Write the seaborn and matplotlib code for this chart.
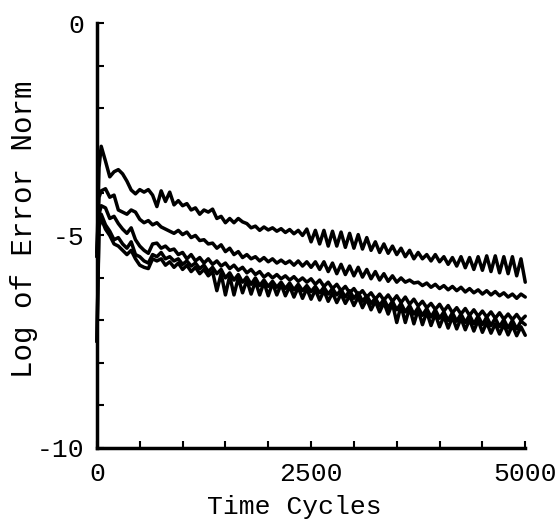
import numpy as np
import pandas as pd
import matplotlib
matplotlib.use("Agg")
import matplotlib.pyplot as plt
import seaborn as sns

# time cycles sampled (first two points cover the initial jump)
cycles = np.concatenate([[0, 25], np.arange(50, 5001, 50)])

# log of error norm (top curve first)
run_1 = [-5.5, -3.4,
         -2.9, -3.25, -3.62, -3.5, -3.45, -3.55, -3.72, -3.93, -4.02, -3.92,
         -3.98, -3.92, -4.05, -4.32, -3.95, -4.2, -3.98, -4.28, -4.18, -4.3,
         -4.25, -4.4, -4.35, -4.5, -4.4, -4.45, -4.38, -4.6, -4.55, -4.7,
         -4.6, -4.7, -4.6, -4.68, -4.72, -4.82, -4.78, -4.88, -4.8, -4.87,
         -4.82, -4.9, -4.84, -4.93, -4.86, -4.96, -4.88, -5.0, -4.85, -5.15,
         -4.88, -5.2, -4.88, -5.25, -4.9, -5.25, -4.92, -5.28, -4.95, -5.3,
         -4.98, -5.32, -5.05, -5.35, -5.15, -5.4, -5.2, -5.42, -5.25, -5.45,
         -5.3, -5.5, -5.35, -5.55, -5.4, -5.55, -5.45, -5.6, -5.45, -5.62,
         -5.5, -5.68, -5.52, -5.72, -5.5, -5.76, -5.52, -5.8, -5.5, -5.82,
         -5.48, -5.85, -5.48, -5.88, -5.5, -5.9, -5.5, -5.95, -5.55, -6.1]
run_2 = [-5.4, -4.1,
         -3.95, -3.9, -4.1, -4.05, -4.4, -4.45, -4.5, -4.4, -4.45, -4.62,
         -4.7, -4.65, -4.75, -4.7, -4.8, -4.85, -4.9, -4.95, -4.88, -4.98,
         -4.92, -5.05, -5.0, -5.12, -5.1, -5.2, -5.18, -5.3, -5.22, -5.38,
         -5.3, -5.45, -5.38, -5.52, -5.45, -5.55, -5.5, -5.6, -5.52, -5.62,
         -5.55, -5.65, -5.58, -5.66, -5.6, -5.7, -5.6, -5.72, -5.62, -5.75,
         -5.62, -5.8, -5.62, -5.85, -5.65, -5.9, -5.68, -5.92, -5.72, -5.95,
         -5.75, -5.98, -5.8, -6.02, -5.85, -6.05, -5.9, -6.08, -5.95, -6.1,
         -6.0, -6.1, -6.05, -6.12, -6.1, -6.18, -6.12, -6.22, -6.15, -6.25,
         -6.18, -6.28, -6.2, -6.3, -6.22, -6.33, -6.25, -6.35, -6.28, -6.38,
         -6.3, -6.4, -6.32, -6.42, -6.35, -6.45, -6.38, -6.48, -6.38, -6.45]
run_3 = [-5.5, -4.5,
         -4.3, -4.35, -4.6, -4.55, -4.72, -4.85, -4.95, -4.82, -5.1, -5.25,
         -5.35, -5.42, -5.2, -5.18, -5.3, -5.25, -5.35, -5.32, -5.45, -5.4,
         -5.55, -5.45, -5.6, -5.52, -5.65, -5.55, -5.68, -5.6, -5.72, -5.65,
         -5.78, -5.7, -5.82, -5.75, -5.88, -5.8, -5.92, -5.85, -5.98, -5.9,
         -6.0, -5.92, -6.02, -5.95, -6.05, -5.97, -6.08, -6.0, -6.1, -6.02,
         -6.15, -6.05, -6.2, -6.1, -6.25, -6.15, -6.3, -6.2, -6.35, -6.25,
         -6.4, -6.3, -6.45, -6.35, -6.5, -6.38, -6.52, -6.4, -6.55, -6.42,
         -6.58, -6.45, -6.62, -6.5, -6.66, -6.55, -6.7, -6.6, -6.74, -6.62,
         -6.78, -6.65, -6.82, -6.7, -6.85, -6.72, -6.88, -6.75, -6.9, -6.78,
         -6.92, -6.8, -6.95, -6.82, -6.97, -6.85, -6.98, -6.86, -7.0, -6.9]
run_4 = [-7.5, -4.6,
         -4.5, -4.75, -4.9, -5.1, -5.05, -5.2, -5.3, -5.15, -5.45, -5.5,
         -5.6, -5.65, -5.45, -5.5, -5.4, -5.55, -5.5, -5.6, -5.55, -5.68,
         -5.6, -5.72, -5.65, -5.78, -5.7, -5.85, -5.75, -5.9, -5.8, -6.0,
         -5.88, -6.05, -5.92, -6.1, -5.98, -6.15, -6.0, -6.18, -6.05, -6.2,
         -6.08, -6.22, -6.1, -6.25, -6.12, -6.28, -6.15, -6.3, -6.18, -6.32,
         -6.2, -6.35, -6.22, -6.38, -6.25, -6.4, -6.28, -6.45, -6.3, -6.48,
         -6.35, -6.55, -6.42, -6.6, -6.48, -6.65, -6.5, -6.7, -6.55, -6.75,
         -6.6, -6.8, -6.65, -6.85, -6.7, -6.88, -6.72, -6.92, -6.75, -6.95,
         -6.8, -7.0, -6.82, -7.02, -6.85, -7.05, -6.88, -7.08, -6.9, -7.1,
         -6.92, -7.12, -6.95, -7.15, -6.98, -7.18, -7.0, -7.2, -7.02, -7.1]
run_5 = [-7.5, -4.8,
         -4.6, -4.85, -5.0, -5.2, -5.25, -5.35, -5.45, -5.35, -5.55, -5.7,
         -5.75, -5.78, -5.55, -5.6, -5.55, -5.7, -5.62, -5.75, -5.65, -5.8,
         -5.7, -5.85, -5.75, -5.9, -5.8, -5.95, -5.85, -6.3, -5.9, -6.4,
         -5.95, -6.4, -6.0, -6.35, -6.05, -6.38, -6.08, -6.4, -6.1, -6.42,
         -6.12, -6.4, -6.15, -6.42, -6.2, -6.45, -6.22, -6.48, -6.25, -6.5,
         -6.28, -6.52, -6.3, -6.55, -6.35, -6.58, -6.38, -6.6, -6.42, -6.65,
         -6.45, -6.7, -6.5, -6.75, -6.55, -6.8, -6.58, -6.85, -6.6, -7.05,
         -6.65, -7.05, -6.7, -7.08, -6.75, -7.1, -6.8, -7.12, -6.85, -7.15,
         -6.9, -7.18, -6.92, -7.2, -6.95, -7.22, -6.98, -7.25, -7.0, -7.28,
         -7.05, -7.3, -7.08, -7.32, -7.1, -7.34, -7.12, -7.36, -7.15, -7.35]

x_ticks = [0, 2500, 5000]
y_ticks = [0, -5, -10]

# long format for seaborn
runs = [run_1, run_2, run_3, run_4, run_5]
df = pd.concat([pd.DataFrame({"cycle": cycles, "err": r, "run": i})
                for i, r in enumerate(runs)])

sns.set_style("ticks")
plt.rcParams["font.family"] = ["Liberation Mono", "DejaVu Sans Mono"]
plt.rcParams["axes.unicode_minus"] = False

fig = plt.figure(figsize=(5.57, 5.25), dpi=100)
ax = fig.add_axes([0.174, 0.147, 0.769, 0.809])

sns.lineplot(data=df, x="cycle", y="err", hue="run", units="run",
             estimator=None, palette=["black"] * 5, linewidth=2.5,
             legend=False, ax=ax, clip_on=False)

ax.set_xlim(0, 5000)
ax.set_ylim(-10, 0)
sns.despine(ax=ax)
for s in ["left", "bottom"]:
    ax.spines[s].set_linewidth(2.5)
    ax.spines[s].set_color("black")

ax.set_xticks(np.arange(0, 5001, 500), minor=True)
ax.set_yticks(np.arange(-10, 1, 1), minor=True)
ax.set_xticks(x_ticks, [str(t) for t in x_ticks])
ax.set_yticks(y_ticks, [str(t) for t in y_ticks])
ax.tick_params(which="both", direction="in", length=5, width=1.5,
               color="black", labelsize=19, labelcolor="black")
ax.tick_params(axis="x", pad=10)
ax.tick_params(axis="y", pad=9)

ax.set_xlabel("Time Cycles", fontsize=19, color="black")
ax.set_ylabel("Log of Error Norm", fontsize=21, color="black")
ax.xaxis.set_label_coords(0.462, -0.112)
ax.yaxis.set_label_coords(-0.138, 0.515)

fig.savefig("out.png", dpi=100, facecolor="white")
